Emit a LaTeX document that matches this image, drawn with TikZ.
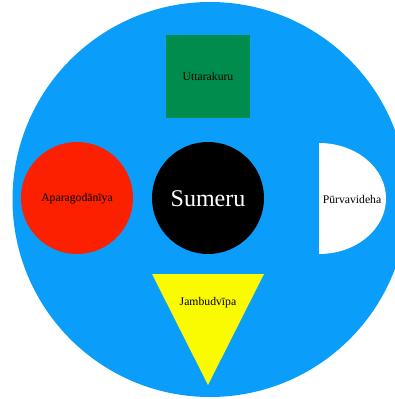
\documentclass[tikz,border=0pt]{standalone}
\usepackage{fontspec}
\setmainfont{Liberation Serif}
\definecolor{oceanblue}{RGB}{10,158,250}
\definecolor{kurugreen}{RGB}{0,140,76}
\definecolor{apared}{RGB}{250,32,0}
\definecolor{jambuyellow}{RGB}{250,250,0}
\tikzset{
  lbl/.style={font=\fontsize{11.7}{14}\selectfont, text=black, inner sep=0pt},
  biglbl/.style={font=\fontsize{24}{28}\selectfont, text=white, inner sep=0pt}
}
\begin{document}
\begin{tikzpicture}[x=1pt,y=-1pt]
\useasboundingbox (0,0) rectangle (395,399);
\clip (0,0) rectangle (395,399);
\fill[oceanblue] (210,199.5) circle[radius=197.5];
\fill[kurugreen] (166,35) rectangle (250,118);
\fill[apared] (77,198) circle[radius=56];
\fill[black] (208,198) circle[radius=56];
\fill[white] (319,143) arc[start angle=-90, end angle=90, x radius=67, y radius=55.5] -- cycle;
\fill[jambuyellow] (152,274) -- (264,274) -- (208,385) -- cycle;
\node[lbl] (uttara) at (208,76) {Uttarakuru};
\node[lbl] (apara) at (77,199) {Aparagodānīya};
\node[biglbl] (sumeru) at (208,199) {Sumeru};
\node[lbl] (purva) at (352,199) {Pūrvavideha};
\node[lbl] (jambu) at (208,303) {Jambudvīpa};
\end{tikzpicture}
\end{document}
